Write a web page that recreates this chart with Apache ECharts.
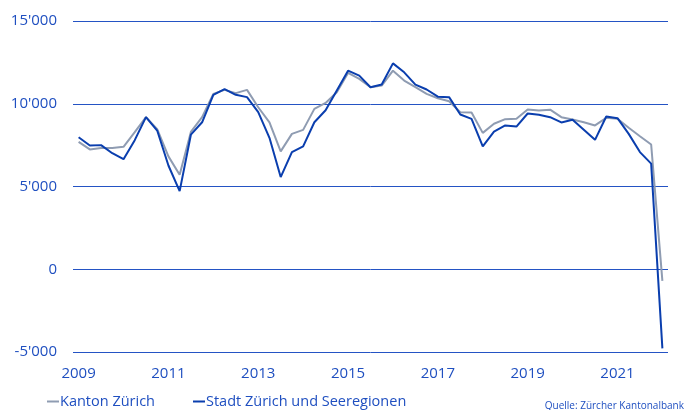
<!DOCTYPE html>
<html>
<head>
<meta charset="utf-8">
<script src="https://cdn.jsdelivr.net/npm/echarts@6/dist/echarts.min.js"></script>
<style>
html,body{margin:0;padding:0;background:#fff;}
#c{width:684px;height:410px;}
</style>
</head>
<body>
<div id="c"></div>
<script>
// Quarterly categories 2009 Q1 .. 2022 Q1
const years = [2009,2010,2011,2012,2013,2014,2015,2016,2017,2018,2019,2020,2021,2022];
const quarters = ['Q1','Q2','Q3','Q4'];
const categories = [];
years.forEach(y => quarters.forEach(q => { if (!(y === 2022 && q !== 'Q1')) categories.push(y + ' ' + q); }));

const seriesNames = ['Kanton Zürich', 'Stadt Zürich und Seeregionen'];

const kanton = [7700,7240,7320,7320,7400,8280,9190,8460,6820,5710,8300,9190,10600,10840,10640,10840,9790,8880,7120,8180,8420,9690,10050,10700,11860,11500,11000,11100,12000,11400,11000,10600,10330,10150,9490,9470,8240,8790,9070,9090,9650,9590,9640,9190,9050,8880,8690,9150,9090,8550,8040,7540,-700];

const stadt = [7980,7480,7500,7010,6650,7800,9190,8380,6270,4720,8130,8880,10540,10880,10540,10400,9490,7940,5570,7080,7420,8880,9610,10800,12000,11700,11000,11160,12440,11900,11160,10860,10430,10400,9350,9090,7420,8320,8690,8620,9410,9330,9190,8870,9030,8430,7820,9230,9130,8180,7080,6380,-4780];

const yTicks = [-5000, 0, 5000, 10000, 15000];
const sourceText = 'Quelle: Zürcher Kantonalbank';

const blueText = '#1f4fc0';
const gridBlue = '#2453c4';

function fmt(v) {
  const s = Math.abs(v).toString();
  const out = s.length > 3 ? s.slice(0, s.length - 3) + "'" + s.slice(-3) : s;
  return (v < 0 ? '-' : '') + out;
}

const chart = echarts.init(document.getElementById('c'), null, {renderer: 'canvas'});
chart.setOption({
  animation: false,
  textStyle: {fontFamily: 'Open Sans'},
  grid: {left: 73, right: 16, top: 21, bottom: 58, containLabel: false},
  legend: {
    left: 42, top: 389,
    itemWidth: 12, itemHeight: 2, itemGap: 38,
    icon: 'rect',
    textStyle: {color: blueText, fontSize: 14.5, fontFamily: 'Open Sans', padding: [0,0,0,-4]},
    data: seriesNames
  },
  xAxis: {
    type: 'category',
    data: categories,
    boundaryGap: true,
    axisLine: {show: false},
    axisTick: {show: false},
    splitLine: {show: false},
    axisLabel: {
      interval: 7,
      margin: 14,
      color: blueText,
      fontSize: 15,
      fontFamily: 'Open Sans',
      formatter: v => v.split(' ')[0]
    }
  },
  yAxis: {
    type: 'value',
    min: yTicks[0], max: yTicks[yTicks.length - 1], interval: 5000,
    axisLine: {show: false},
    axisTick: {show: false},
    splitLine: {show: true, lineStyle: {color: gridBlue, width: 1}},
    axisLabel: {margin: 16, color: blueText, fontSize: 15, fontFamily: 'Open Sans', formatter: fmt}
  },
  series: [
    {name: seriesNames[0], type: 'line', data: kanton, symbol: 'none',
     lineStyle: {color: '#8f9cb2', width: 2}, itemStyle: {color: '#8f9cb2'}},
    {name: seriesNames[1], type: 'line', data: stadt, symbol: 'none',
     lineStyle: {color: '#0a3eae', width: 2}, itemStyle: {color: '#0a3eae'}}
  ],
  graphic: [{
    type: 'text', right: 0, top: 401,
    style: {text: sourceText, fill: blueText, font: '10px "Open Sans"'}
  }]
});
</script>
</body>
</html>
